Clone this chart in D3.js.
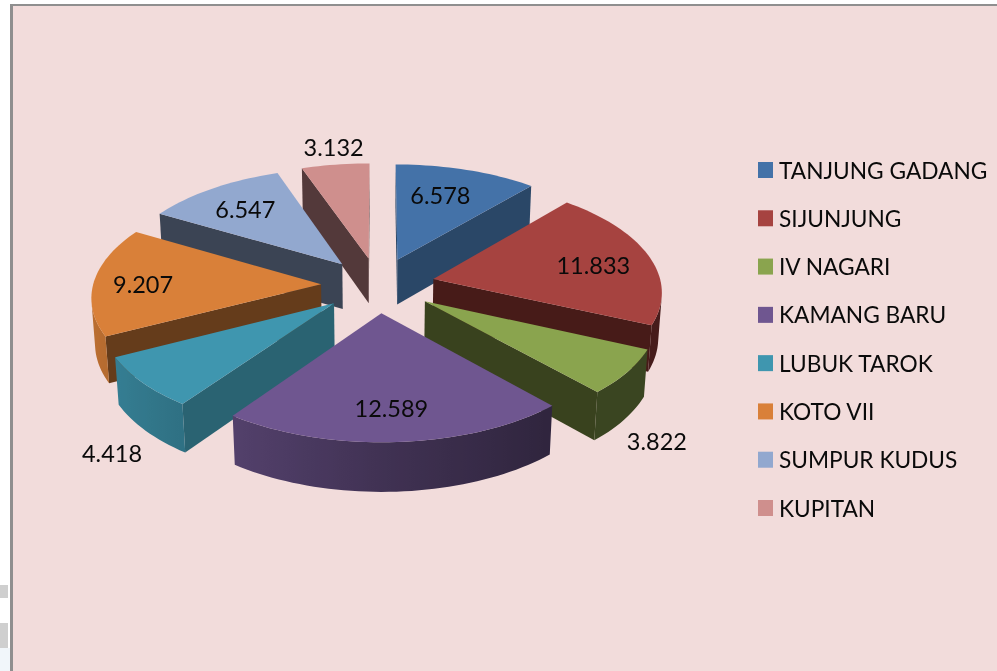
<!DOCTYPE html>
<html>
<head>
<meta charset="utf-8">
<script src="https://cdnjs.cloudflare.com/ajax/libs/d3/7.8.5/d3.min.js"></script>
<style>
html,body{margin:0;padding:0;background:#fff;overflow:hidden}
svg{display:block;filter:blur(0.4px)}
text{font-family:Lato,"Open Sans",sans-serif;fill:#0a0a0a}
</style>
</head>
<body>
<svg id="chart" width="997" height="671"></svg>
<script>
// Data
const categories = ["TANJUNG GADANG","SIJUNJUNG","IV NAGARI","KAMANG BARU","LUBUK TAROK","KOTO VII","SUMPUR KUDUS","KUPITAN"];
const values = [6.578,11.833,3.822,12.589,4.418,9.207,6.547,3.132];

// Styles
const topColors    = ["#4472A8","#A64340","#8AA44E","#6F5690","#3F96AF","#D98039","#92A8CF","#CF8F8D"];
const radialColors = ["#2A4767","#471B18","#39421E","#3A2C4C","#2A6372","#653C1B","#3B4454","#53393A"];
const labelOffsets = [[43,-65],[160,-14],[232,140],[10,95],[-222,150],[-178,0],[-97,-55],[-35,-112]];

// Layout
const svg = d3.select("#chart");
const W = 997, H = 671;
const cx = 378, cy = 285, R = 228, explode = 57, tilt = 0.482, persp = 0.000445, perspZ = 0.00028, depth = 46;

const project = (u, v, z) => {
  const w = 1 / (1 + persp * v + perspZ * z);
  return [cx + u * w, cy - tilt * v * w + z * w];
};
const line = d3.line().curve(d3.curveLinearClosed);
const shadeScale = d3.scaleLinear().domain([-1, 0, 0.7, 1]).range([0.87, 0.58, 0.42, 0.42]);
const darken = (c, t) => d3.interpolateRgb("#000", c)(t);

// Background panel and page furniture
svg.append("rect").attr("x",0).attr("y",0).attr("width",W).attr("height",H).attr("fill","#fff");
svg.append("rect").attr("x",10).attr("y",4).attr("width",W-10).attr("height",H-4).attr("fill","#8F8F8F");
svg.append("rect").attr("x",13).attr("y",6).attr("width",W-13).attr("height",H-6).attr("fill","#F2DCDB");
[[585,13],[623,25]].forEach(([y,h]) => svg.append("rect").attr("x",0).attr("y",y).attr("width",8).attr("height",h).attr("fill","#CFCFCF"));
svg.append("rect").attr("x",0).attr("y",648).attr("width",10).attr("height",23).attr("fill","#F1F6FA");

const defs = svg.append("defs");

// Slices
const arcs = d3.pie().sort(null).value(d => d)(values).map((a, i) => {
  const mid = (a.startAngle + a.endAngle) / 2;
  return {...a, i, mid, ox: explode * Math.sin(mid), oy: explode * Math.cos(mid)};
});
const pieLayer = svg.append("g");
arcs.slice().sort((a, b) => Math.cos(b.mid) - Math.cos(a.mid)).forEach(a => {
  const n = Math.max(2, Math.ceil((a.endAngle - a.startAngle) / 0.03));
  const thetas = d3.range(n + 1).map(k => a.startAngle + (a.endAngle - a.startAngle) * k / n);
  const ground = [[a.ox, a.oy, null]].concat(thetas.map(t => [a.ox + R * Math.sin(t), a.oy + R * Math.cos(t), t]));
  const g = pieLayer.append("g").attr("class", "slice");
  const rimStrips = [];
  ground.forEach((p, k) => {
    const q = ground[(k + 1) % ground.length];
    const quad = [project(p[0],p[1],0), project(q[0],q[1],0), project(q[0],q[1],depth), project(p[0],p[1],depth)];
    if (d3.polygonArea(quad) <= 0) return;
    if (p[2] === null || q[2] === null) {
      g.append("path").attr("d", line(quad)).attr("fill", radialColors[a.i]);
    } else {
      rimStrips.push({quad, shade: shadeScale(Math.sin((p[2] + q[2]) / 2))});
    }
  });
  if (rimStrips.length) {
    const xs = rimStrips.flatMap(s => [s.quad[0][0], s.quad[1][0]]);
    const [x0, x1] = d3.extent(xs);
    const grad = defs.append("linearGradient").attr("id", "rim" + a.i)
      .attr("gradientUnits", "userSpaceOnUse").attr("x1", x0).attr("x2", x1).attr("y1", 0).attr("y2", 0);
    rimStrips.map(s => ({x: (s.quad[0][0] + s.quad[1][0]) / 2, shade: s.shade}))
      .sort((s, t) => s.x - t.x)
      .forEach(s => grad.append("stop")
        .attr("offset", x1 > x0 ? (s.x - x0) / (x1 - x0) : 0)
        .attr("stop-color", darken(topColors[a.i], s.shade)));
    const outline = rimStrips.map(s => s.quad[0])
      .concat([rimStrips[rimStrips.length - 1].quad[1], rimStrips[rimStrips.length - 1].quad[2]])
      .concat(rimStrips.slice().reverse().map(s => s.quad[3]));
    g.append("path").attr("d", line(outline)).attr("fill", `url(#rim${a.i})`);
  }
  g.append("path").attr("d", line(ground.map(p => project(p[0],p[1],0)))).attr("fill", topColors[a.i]);
});

// Value labels
arcs.forEach(a => {
  const [x, y] = project(a.ox, a.oy, 0);
  svg.append("text").attr("x", x + labelOffsets[a.i][0]).attr("y", y + labelOffsets[a.i][1])
    .attr("text-anchor","middle").attr("dominant-baseline","central")
    .attr("font-size", 23.5).text(values[a.i].toFixed(3));
});

// Legend
const legendY = d3.scalePoint().domain(categories).range([170, 508]);
const legend = svg.append("g").selectAll("g").data(categories).join("g")
  .attr("transform", d => `translate(758,${legendY(d)})`);
legend.append("rect").attr("x",0).attr("y",-8).attr("width",15).attr("height",16).attr("fill",(d,i)=>topColors[i]);
legend.append("text").attr("x",21).attr("y",0).attr("dominant-baseline","central").attr("font-size",22.7).text(d=>d);
</script>
</body>
</html>
